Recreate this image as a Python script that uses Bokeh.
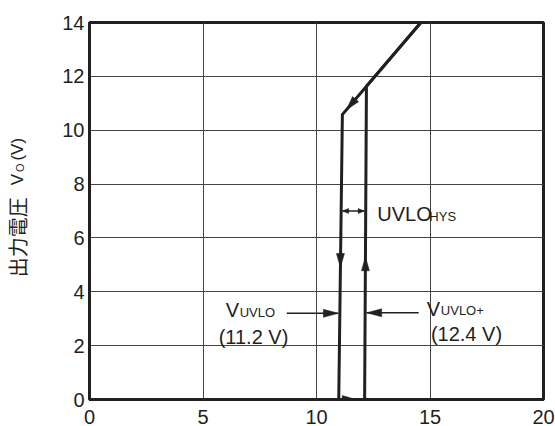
import math
import numpy as np
from bokeh.plotting import figure
from bokeh.layouts import row
from bokeh.models import Range1d, FixedTicker, Label
from bokeh.embed import file_html
from bokeh.resources import INLINE

# ---------------- data ----------------
x_ticks = [0, 5, 10, 15, 20]
y_ticks = [0, 2, 4, 6, 8, 10, 12, 14]

# input voltage rising (V_IN, V_O)
vin_rise = [0.0, 12.12, 12.20, 14.60]
vo_rise = [0.0, 0.0, 11.63, 14.0]
# input voltage falling
vin_fall = [14.60, 11.14, 10.98, 0.0]
vo_fall = [14.0, 10.58, 0.0, 0.0]

v_uvlo_minus = 11.2
v_uvlo_plus = 12.4

# ---------------- layout ----------------
W_TOTAL, H = 555, 426
WL = 40                      # strip holding the rotated y title
W = W_TOTAL - WL
BL, BR, BT, BB = 89 - WL, 12, 22, 27
X_MIN, X_MAX, Y_MIN, Y_MAX = 0, 20, 0, 14
SX = (W - BL - BR) / (X_MAX - X_MIN)
SY = (H - BT - BB) / (Y_MAX - Y_MIN)

INK = "#231f20"
GRID = "#444444"
FONT = "Liberation Sans"
CJK = "Noto Sans CJK JP"

p = figure(width=W, height=H, x_range=Range1d(X_MIN, X_MAX), y_range=Range1d(Y_MIN, Y_MAX),
           output_backend="svg", toolbar_location=None,
           min_border_left=BL, min_border_right=BR, min_border_top=BT, min_border_bottom=BB)
p.background_fill_color = "white"
p.border_fill_color = "white"
p.outline_line_color = INK
p.outline_line_width = 3

p.xaxis.ticker = FixedTicker(ticks=x_ticks)
p.xgrid.ticker = FixedTicker(ticks=x_ticks)
p.yaxis.ticker = FixedTicker(ticks=y_ticks)
p.ygrid.ticker = FixedTicker(ticks=y_ticks)
for g in (p.xgrid, p.ygrid):
    g.grid_line_color = GRID
    g.grid_line_width = 1
    g.grid_line_alpha = 1.0

for ax, so in ((p.xaxis[0], 10), (p.yaxis[0], 5)):
    ax.axis_line_color = INK
    ax.axis_line_width = 3
    ax.major_tick_in = 0
    ax.major_tick_out = 0
    ax.minor_tick_in = 0
    ax.minor_tick_out = 0
    ax.major_label_standoff = so
    ax.major_label_text_font = FONT
    ax.major_label_text_font_size = "20px"
    ax.major_label_text_line_height = 1.0
    ax.major_label_text_color = INK

# ---------------- curves ----------------
p.line(vin_rise, vo_rise, line_width=3, line_color=INK, line_join="miter")
p.line(vin_fall, vo_fall, line_width=3, line_color=INK, line_join="miter")


def head(tx, ty, dx, dy, length, hw):
    px, py = dx * SX, dy * SY
    n = math.hypot(px, py)
    ux, uy = px / n, py / n
    nx, ny = -uy, ux
    bx, by = -ux * length, -uy * length
    pts = [(0.0, 0.0), (bx + nx * hw, by + ny * hw), (bx - nx * hw, by - ny * hw)]
    return [tx + a / SX for a, b in pts], [ty + b / SY for a, b in pts]


def x_left(v):
    return float(np.interp(v, [vo_fall[2], vo_fall[1]], [vin_fall[2], vin_fall[1]]))


def x_right(v):
    return float(np.interp(v, [vo_rise[1], vo_rise[2]], [vin_rise[1], vin_rise[2]]))


half_line = 1.5 / SX
heads_x, heads_y = [], []

diag_slope = (vo_fall[0] - vo_fall[1]) / (vin_fall[0] - vin_fall[1])
for tx, ty, dx, dy in [
    (11.75, 0.0, 1, 0),
    (x_right(5.3), 5.3, 0, 1),
    (x_left(4.9), 4.9, 0, -1),
    (11.32, vo_fall[1] + (11.32 - vin_fall[1]) * diag_slope, -1, -diag_slope),
]:
    xs, ys = head(tx, ty, dx, dy, 14, 4)
    heads_x.append(xs)
    heads_y.append(ys)

# hysteresis double arrow
y_h = 7.0
l_tip = x_left(y_h) + half_line
r_tip = x_right(y_h) - half_line
p.segment([l_tip], [y_h], [r_tip], [y_h], line_width=1.5, line_color=INK)
for tx, dx in [(l_tip, -1), (r_tip, 1)]:
    xs, ys = head(tx, y_h, dx, 0, 6, 2.5)
    heads_x.append(xs)
    heads_y.append(ys)

# V_UVLO- pointer
y_a = 3.2
a_tip = x_left(y_a) - half_line
p.segment([8.69], [y_a], [a_tip], [y_a], line_width=1.5, line_color=INK)
xs, ys = head(a_tip, y_a, 1, 0, 15, 4)
heads_x.append(xs)
heads_y.append(ys)

# V_UVLO+ pointer
y_b = 3.22
b_tip = x_right(y_b) + half_line
p.segment([14.5], [y_b], [b_tip], [y_b], line_width=1.5, line_color=INK)
xs, ys = head(b_tip, y_b, -1, 0, 15, 4)
heads_x.append(xs)
heads_y.append(ys)

p.patches(heads_x, heads_y, fill_color=INK, line_color=INK, line_width=0.5)

# shift that puts the glyph baseline on the anchor point
BASE_K = 0.3465


def lab(fig, x, y, text, size, font=FONT, xo=0.0, angle=0.0, k=BASE_K):
    if angle == 0.0:
        xo2, yo2 = xo, k * size
    else:
        xo2, yo2 = xo - k * size, 0.0
    fig.add_layout(Label(x=x, y=y, text=text, x_offset=xo2, y_offset=yo2, angle=angle,
                         text_font=font, text_font_size=f"{size}px", text_color=INK,
                         text_align="left", text_baseline="alphabetic"))


lab(p, 6.0, 3.08, "V", 20)
lab(p, 6.0, 3.08, "UVLO", 13, xo=14)
lab(p, 5.69, 2.08, f"({v_uvlo_minus:.1f} V)", 20)

lab(p, 14.86, 3.12, "V", 20)
lab(p, 14.86, 3.12, "UVLO+", 13, xo=14)
lab(p, 15.04, 2.19, f"({v_uvlo_plus:.1f} V)", 20)

lab(p, 12.68, 6.64, "UVLO", 20)
lab(p, 12.68, 6.64, "HYS", 13, xo=52)

# ---------------- rotated y title strip: 出力電圧  V_O (V) ----------------
t = figure(width=WL, height=H, x_range=Range1d(0, WL), y_range=Range1d(0, H),
           output_backend="svg", toolbar_location=None, x_axis_type=None, y_axis_type=None,
           min_border_left=0, min_border_right=0, min_border_top=0, min_border_bottom=0)
t.outline_line_color = None
t.background_fill_color = "white"
t.border_fill_color = "white"
t.xgrid.visible = False
t.ygrid.visible = False

up = math.pi / 2
lab(t, 24, H - 288, "出力電圧", 20, font=CJK, angle=up, k=0.35)
lab(t, 23, H - 184, "V", 17, angle=up)
lab(t, 23, H - 169, "O", 11, angle=up)
lab(t, 23, H - 156, "(V)", 17, angle=up)

layout = row(t, p, spacing=0)
open("out.html", "w").write(file_html(layout, INLINE))
